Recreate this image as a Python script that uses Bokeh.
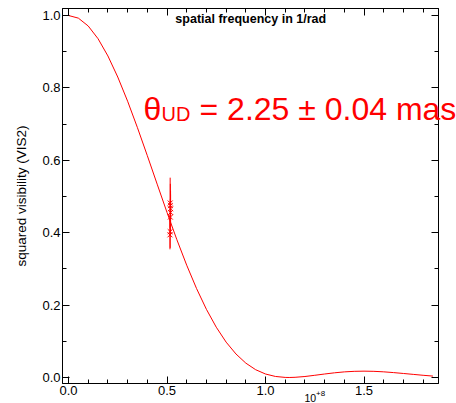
from bokeh.plotting import figure
from bokeh.models import Range1d, LinearAxis, Label, Title, SingleIntervalTicker, CustomJSTickFormatter
from bokeh.embed import file_html
from bokeh.resources import INLINE

# model curve (uniform disk fit); x in units of 1e8 1/rad
model_x = [0.0, 0.05, 0.1, 0.15, 0.2, 0.25, 0.3, 0.35, 0.4, 0.45, 0.5, 0.55, 0.6,
           0.65, 0.7, 0.75, 0.8, 0.85, 0.9, 0.95, 1.0, 1.05, 1.1, 1.12, 1.15, 1.2,
           1.25, 1.3, 1.35, 1.4, 1.45, 1.5, 1.55, 1.6, 1.65, 1.7, 1.75, 1.8, 1.85]
model_v2 = [1.0, 0.9927, 0.9710, 0.9358, 0.8882, 0.8300, 0.7632, 0.6900, 0.6128,
            0.5341, 0.4560, 0.3807, 0.3101, 0.2456, 0.1883, 0.1389, 0.0977, 0.0649,
            0.0397, 0.0215, 0.0096, 0.0029, 0.0002, 0.0, 0.0005, 0.0027, 0.0061,
            0.0096, 0.0129, 0.0155, 0.0170, 0.0175, 0.0170, 0.0156, 0.0135, 0.0111,
            0.0086, 0.0061, 0.0039]

# measured points
obs_x = [0.516, 0.517, 0.518, 0.518, 0.517, 0.516, 0.515]
obs_v2 = [0.482, 0.475, 0.466, 0.456, 0.443, 0.403, 0.394]
obs_err = [0.07, 0.06, 0.05, 0.05, 0.05, 0.045, 0.04]

FONT = "Liberation Sans"
RED = "#ff0000"

p = figure(width=456, height=403, frame_width=376, frame_height=375,
           x_range=Range1d(-0.0305, 1.878), y_range=Range1d(-0.0166, 1.0193),
           output_backend="svg", toolbar_location=None,
           min_border_left=61, min_border_right=19, min_border_top=8, min_border_bottom=20)
p.background_fill_color = "white"
p.border_fill_color = "white"
p.outline_line_color = "black"
p.outline_line_width = 1
p.xgrid.visible = False
p.ygrid.visible = False

def style_axis(ax, labels=True):
    ax.axis_line_color = "black"
    ax.major_tick_in = 7
    ax.major_tick_out = 0
    ax.minor_tick_in = 4
    ax.minor_tick_out = 0
    ax.major_tick_line_color = "black"
    ax.minor_tick_line_color = "black"
    ax.major_label_text_font = FONT
    ax.major_label_text_color = "black"
    if labels:
        ax.major_label_text_font_size = "13px"
        ax.major_label_standoff = 2
    else:
        ax.formatter = CustomJSTickFormatter(code="return ''")
        ax.major_label_text_font_size = "1px"
        ax.major_label_standoff = 0

p.xaxis.ticker = SingleIntervalTicker(interval=0.5, num_minor_ticks=5)
p.yaxis.ticker = SingleIntervalTicker(interval=0.2, num_minor_ticks=2)
style_axis(p.xaxis[0])
style_axis(p.yaxis[0])
p.xaxis[0].major_label_overrides = {0: "0.0", 1: "1.0"}
p.yaxis[0].major_label_overrides = {0: "0.0", 1: "1.0"}

top = LinearAxis(ticker=SingleIntervalTicker(interval=0.5, num_minor_ticks=5))
right = LinearAxis(ticker=SingleIntervalTicker(interval=0.2, num_minor_ticks=2))
style_axis(top, labels=False)
style_axis(right, labels=False)
p.add_layout(top, "above")
p.add_layout(right, "right")

p.line(model_x, model_v2, line_color=RED, line_width=1)

p.segment(x0=obs_x, y0=[v - e for v, e in zip(obs_v2, obs_err)],
          x1=obs_x, y1=[v + e for v, e in zip(obs_v2, obs_err)],
          line_color=RED, line_width=1)
p.scatter(obs_x, obs_v2, marker="x", size=7, line_color=RED, line_width=1)

# annotations
def lab(place="center", **kw):
    kw.setdefault("text_font", FONT)
    kw.setdefault("text_baseline", "alphabetic")
    p.add_layout(Label(level="overlay", **kw), place)

lab(x=0.925, y=0.99, text="spatial frequency in 1/rad", text_font_size="12.5px",
    text_font_style="bold", text_color="black", text_align="center")

ytitle = Title(text="squared visibility (VIS2)", align="center", standoff=22,
               text_font=FONT, text_font_size="13.5px", text_font_style="normal",
               text_color="black")
p.add_layout(ytitle, "left")

lab("below", x=1.198, y=-0.058, text="10", text_font_size="10.5px", text_color="black")
lab("below", x=1.256, y=-0.0445, text="+8", text_font_size="8px", text_color="black")

lab("right", x=0.381, y=0.743, text="θ", text_font_size="32px", text_color=RED)
lab("right", x=0.472, y=0.7265, text="UD", text_font_size="20px", text_color=RED)
lab("right", x=0.665, y=0.743, text="= 2.25 ± 0.04 mas", text_font_size="32px", text_color=RED)

open("out.html", "w").write(file_html(p, INLINE))
